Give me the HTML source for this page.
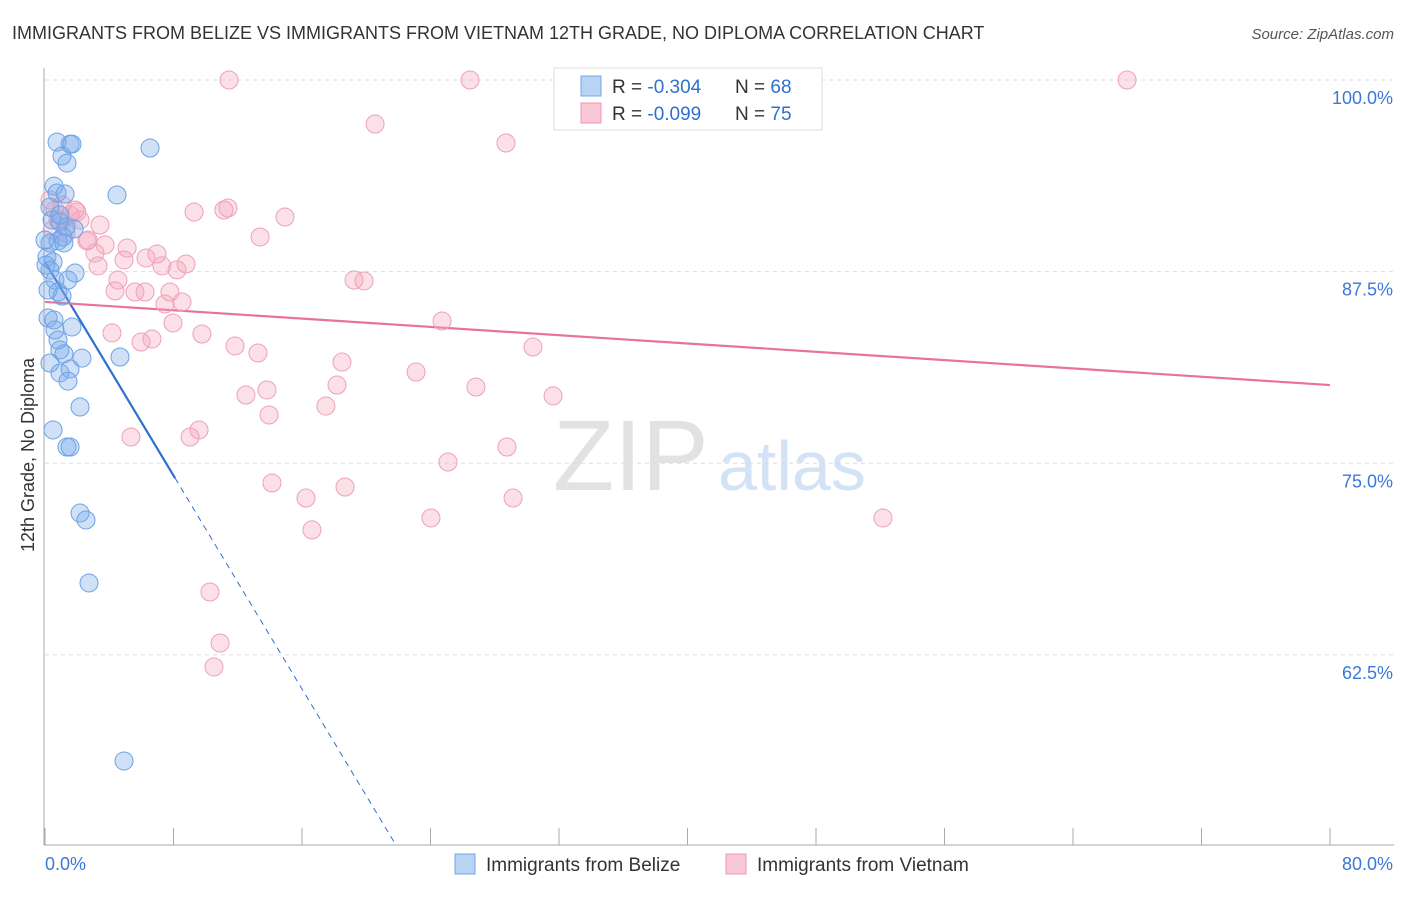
<!DOCTYPE html>
<html><head><meta charset="utf-8"><style>
body{margin:0;background:#fff;font-family:"Liberation Sans",sans-serif;}
svg text{font-family:"Liberation Sans",sans-serif;}
</style></head><body>
<svg id="chart" width="1406" height="892" viewBox="0 0 1406 892">
<text x="12" y="39" font-size="18" fill="#333">IMMIGRANTS FROM BELIZE VS IMMIGRANTS FROM VIETNAM 12TH GRADE, NO DIPLOMA CORRELATION CHART</text>
<text x="1394" y="39" font-size="15" fill="#555" text-anchor="end" font-style="italic">Source: ZipAtlas.com</text>
<text x="553" y="490" font-size="100" fill="#e2e2e2" font-family="Liberation Serif">ZIP</text>
<text x="718" y="490" font-size="70" fill="#d3e2f4">atlas</text>
<g id="grid"></g><g id="axes"></g><g id="trend"></g><g id="pts"></g>
<text transform="translate(34,455) rotate(-90)" font-size="18" fill="#333" text-anchor="middle">12th Grade, No Diploma</text>
<g>
<rect x="554" y="68" width="268" height="62" fill="#fff" stroke="#ddd"/>
<rect x="581" y="76" width="20" height="20" fill="#b9d3f3" stroke="#6fa5e6"/>
<rect x="581" y="103" width="20" height="20" fill="#f9c8d6" stroke="#ec97b2"/>
<text x="612" y="93" font-size="19" fill="#333">R = <tspan fill="#2f6fd0">-0.304</tspan></text>
<text x="735" y="93" font-size="19" fill="#333">N = <tspan fill="#2f6fd0">68</tspan></text>
<text x="612" y="120" font-size="19" fill="#333">R = <tspan fill="#2f6fd0">-0.099</tspan></text>
<text x="735" y="120" font-size="19" fill="#333">N = <tspan fill="#2f6fd0">75</tspan></text>
</g>
<g>
<rect x="455" y="854" width="20" height="20" fill="#b9d3f3" stroke="#6fa5e6"/>
<text x="486" y="871" font-size="19" fill="#333">Immigrants from Belize</text>
<rect x="726" y="854" width="20" height="20" fill="#f9c8d6" stroke="#ec97b2"/>
<text x="757" y="871" font-size="19" fill="#333">Immigrants from Vietnam</text>
</g>
</svg>
<script>
const yTicks=[100,87.5,75,62.5];
const yTickLabels=["100.0%","87.5%","75.0%","62.5%"];
const xTicks=[0,8,16,24,32,40,48,56,64,72,80];
const belizeX=[0.75,1.56,1.68,1.06,1.37,6.54,4.48,0.56,0.75,1.25,0.31,0.44,0.93,1.31,1.81,0.31,0.81,1.18,0.12,0.50,0.31,0.62,1.43,1.87,0.81,1.06,0.19,0.56,0.62,1.68,0.81,0.93,1.18,2.30,4.67,0.31,0.93,1.56,1.43,2.18,0.50,1.37,1.56,2.18,2.55,2.74,4.92,0.0,0.06,0.19,0.93,1.12];
const belizeY=[97.06,96.93,96.93,96.15,95.69,96.67,93.61,94.19,93.74,93.67,92.82,91.98,91.85,91.52,91.39,90.48,90.61,90.48,89.56,89.24,88.71,88.06,88.06,88.52,87.28,87.02,85.58,85.45,84.80,85.00,84.15,83.50,83.24,82.97,83.04,82.65,82.00,82.26,81.47,79.78,78.28,77.17,77.17,72.86,72.41,68.30,56.69,90.67,89.04,87.41,92.30,90.87];
const vietX=[11.46,26.46,67.37,20.55,28.70,9.28,11.14,11.39,14.94,13.39,2.61,3.74,5.11,3.11,6.97,6.29,4.92,7.28,8.22,8.78,3.30,4.54,19.24,19.86,4.36,5.60,6.23,7.78,7.47,8.53,7.97,4.17,9.77,6.66,5.98,11.83,13.26,30.38,24.72,18.49,23.10,26.83,18.18,13.82,12.51,31.63,17.49,13.95,9.59,9.03,5.35,25.09,28.76,14.13,18.68,16.25,29.14,24.03,52.17,16.62,10.27,10.90,10.52,0.62,1.06,1.56,1.99,2.18,0.44,1.31,3.42,2.68,0.31,0.81,1.87];
const vietY=[101.11,101.11,101.11,98.24,97.00,92.50,92.63,92.76,92.17,90.87,90.61,90.35,90.15,89.82,89.76,89.50,89.37,88.98,88.72,89.11,88.98,88.06,88.06,88.00,87.35,87.28,87.28,87.28,86.50,86.63,85.26,84.61,84.54,84.21,84.02,83.76,83.30,83.69,85.39,82.71,82.06,81.08,81.21,80.89,80.56,80.50,79.84,79.26,78.28,77.82,77.82,76.19,77.17,74.82,74.56,73.84,73.84,72.54,72.54,71.76,67.71,64.38,62.82,92.63,92.96,92.30,92.50,91.98,91.32,91.13,91.65,90.67,93.28,91.98,92.63];
const belizeTrend=[89.24,-1.741,8.1,21.85];
const vietTrend=[86.63,81.21];
const NS="http://www.w3.org/2000/svg";
const xs=v=>45+v/80*1285;
const ys=v=>97+(100-v)*15.33;
function mk(tag,attrs,parent){const e=document.createElementNS(NS,tag);for(const k in attrs)e.setAttribute(k,attrs[k]);document.getElementById(parent).appendChild(e);return e;}
yTicks.forEach((t,i)=>{
 const l=mk('line',{x1:45,x2:1394,y1:ys(t)-17,y2:ys(t)-17,stroke:'#ddd','stroke-dasharray':'4,4'},'grid');
 
 
 const tx=mk('text',{x:1393,y:ys(t)+7,'font-size':18,fill:'#3b78d8','text-anchor':'end'},'grid');
 tx.textContent=yTickLabels[i];
 
 
});
const ax=mk('line',{x1:44,x2:44,y1:68,y2:845,stroke:'#aaa'},'axes');


const bx=mk('line',{x1:44,x2:1394,y1:845,y2:845,stroke:'#aaa'},'axes');


xTicks.forEach(t=>{const l=mk('line',{x1:xs(t),x2:xs(t),y1:828,y2:845,stroke:'#aaa'},'axes');
 
 });
[[0,'0.0%','start',45],[80,'80.0%','end',1393]].forEach(a=>{const t=mk('text',{x:a[3],y:870,'font-size':18,fill:'#3b78d8','text-anchor':a[2]},'axes');t.textContent=a[1];
 
 });
function pts(X,Y,fill,stroke,name){X.forEach((x,i)=>{const c=mk('circle',{cx:xs(x),cy:ys(Y[i]),r:9,fill:fill,stroke:stroke,'stroke-width':1},'pts');
 
 });}
pts(vietX,vietY,'rgba(244,165,190,0.35)','#eea0b8','vietnam-point');
pts(belizeX,belizeY,'rgba(120,170,232,0.35)','#6ba2e6','belize-point');
const bt=belizeTrend,f=x=>bt[0]+bt[1]*x;
const l1=mk('line',{x1:xs(0),y1:ys(f(0)),x2:xs(bt[2]),y2:ys(f(bt[2])),stroke:'#2f6fd0','stroke-width':2.2},'trend');


const l2=mk('line',{x1:xs(bt[2]),y1:ys(f(bt[2])),x2:xs(bt[3]),y2:ys(f(bt[3])),stroke:'#2f6fd0','stroke-width':1,'stroke-dasharray':'6,5'},'trend');


const l3=mk('line',{x1:xs(0),y1:ys(vietTrend[0]),x2:xs(80),y2:ys(vietTrend[1]),stroke:'#e8729a','stroke-width':2.2},'trend');


</script>
</body></html>
